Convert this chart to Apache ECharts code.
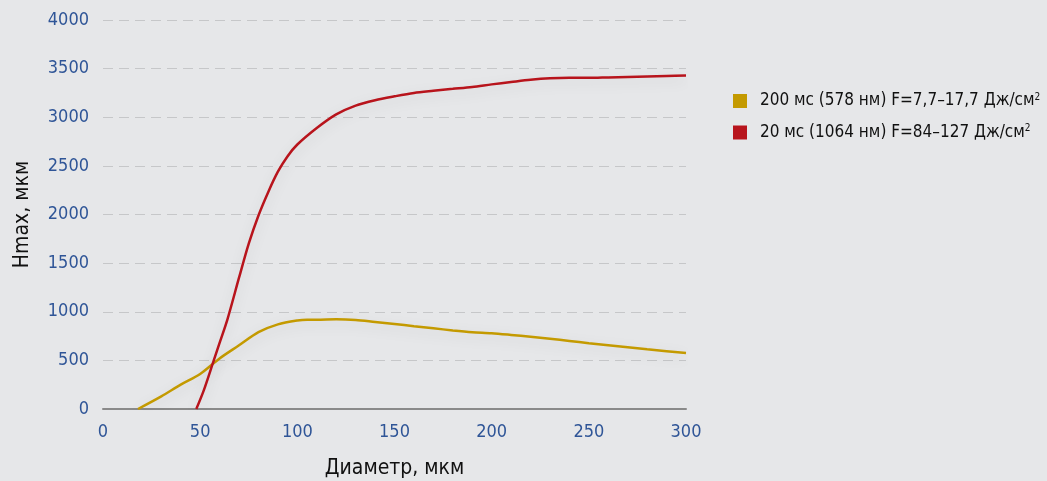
<!DOCTYPE html>
<html>
<head>
<meta charset="utf-8">
<script src="https://cdn.jsdelivr.net/npm/echarts@6/dist/echarts.min.js"></script>
<style>
  html, body { margin: 0; padding: 0; background: #e6e7e9; }
  #chart { width: 1047px; height: 481px; }
</style>
</head>
<body>
<div id="chart"></div>
<script>
const seriesNames = ['200 мс (578 нм) F=7,7–17,7 Дж/см', '20 мс (1064 нм) F=84–127 Дж/см']

// 200 ms (yellow)
const yellowX = [18, 30, 40, 50, 60, 70, 80, 90, 100, 105, 110, 120, 130, 140, 150, 160, 170, 180, 190, 200, 210, 220, 230, 240, 250, 260, 270, 280, 290, 300]
const yellowY = [0, 130, 250, 360, 520, 655, 790, 870, 910, 918, 918, 922, 915, 895, 875, 852, 830, 808, 790, 780, 762, 742, 722, 700, 676, 656, 636, 615, 595, 575]

// 20 ms (red)
const redX = [48, 52, 57, 60, 64, 70, 75, 80, 85, 90, 95, 100, 110, 120, 130, 140, 150, 160, 170, 180, 190, 200, 210, 220, 230, 240, 250, 260, 270, 280, 290, 300]
const redY = [0, 200, 500, 680, 920, 1350, 1700, 1990, 2230, 2440, 2600, 2720, 2890, 3030, 3120, 3175, 3215, 3250, 3272, 3292, 3312, 3338, 3362, 3385, 3400, 3405, 3405, 3410, 3415, 3420, 3425, 3430]

const xTicks = { min: 0, max: 300, interval: 50 }
const yTicks = { min: 0, max: 4000, interval: 500 }

const toPairs = (xs, ys) => xs.map((x, i) => [x, ys[i]])

const chart = echarts.init(document.getElementById('chart'))
const font = '"Liberation Sans Narrow", "DejaVu Sans Condensed", Roboto, sans-serif'

chart.setOption({
  backgroundColor: '#e6e7e9',
  animation: false,
  textStyle: { fontFamily: font },
  grid: { left: 103, right: 361, top: 20, bottom: 72, outerBoundsMode: 'none' },
  legend: {
    orient: 'vertical',
    left: 728,
    top: 87,
    itemGap: 14,
    itemWidth: 14,
    itemHeight: 14,
    icon: 'rect',
    textStyle: {
      fontFamily: font,
      fontSize: 17,
      color: '#111',
      padding: [0, 0, 0, 8],
      rich: { sup: { fontSize: 10, verticalAlign: 'top', padding: [0, 0, 8, 0], color: '#111', fontFamily: font } },
    },
    formatter: (name) => name + '{sup|2}',
  },
  xAxis: {
    type: 'value',
    min: xTicks.min,
    max: xTicks.max,
    interval: xTicks.interval,
    name: 'Диаметр, мкм',
    nameLocation: 'middle',
    nameGap: 49,
    nameTextStyle: { color: '#111', fontSize: 21, fontFamily: font },
    axisLine: { show: true, lineStyle: { color: '#8a8a8a', width: 2 } },
    axisTick: { show: false },
    axisLabel: { color: '#2f5597', fontSize: 18, margin: 14, formatter: (v) => String(v) },
    splitLine: { show: false },
  },
  yAxis: {
    type: 'value',
    min: yTicks.min,
    max: yTicks.max,
    interval: yTicks.interval,
    name: 'Hmax, мкм',
    nameLocation: 'middle',
    nameGap: 70,
    nameTextStyle: { color: '#111', fontSize: 21, fontFamily: font },
    axisLine: { show: false },
    axisTick: { show: false },
    axisLabel: { color: '#2f5597', fontSize: 18, margin: 14, formatter: (v) => String(v) },
    splitLine: { lineStyle: { color: '#c6c7c9', type: [10, 6], width: 1 } },
  },
  series: [
    {
      name: seriesNames[0],
      type: 'line',
      smooth: 0.3,
      symbol: 'none',
      data: toPairs(yellowX, yellowY),
      itemStyle: { color: '#c49a00' },
      lineStyle: { color: '#c49a00', width: 2.5, shadowColor: 'rgba(0,0,0,0.12)', shadowBlur: 14, shadowOffsetY: 4 },
    },
    {
      name: seriesNames[1],
      type: 'line',
      smooth: 0.3,
      symbol: 'none',
      data: toPairs(redX, redY),
      itemStyle: { color: '#b8141c' },
      lineStyle: { color: '#b8141c', width: 2.5, shadowColor: 'rgba(0,0,0,0.12)', shadowBlur: 14, shadowOffsetY: 4 },
    },
  ],
})
</script>
</body>
</html>
